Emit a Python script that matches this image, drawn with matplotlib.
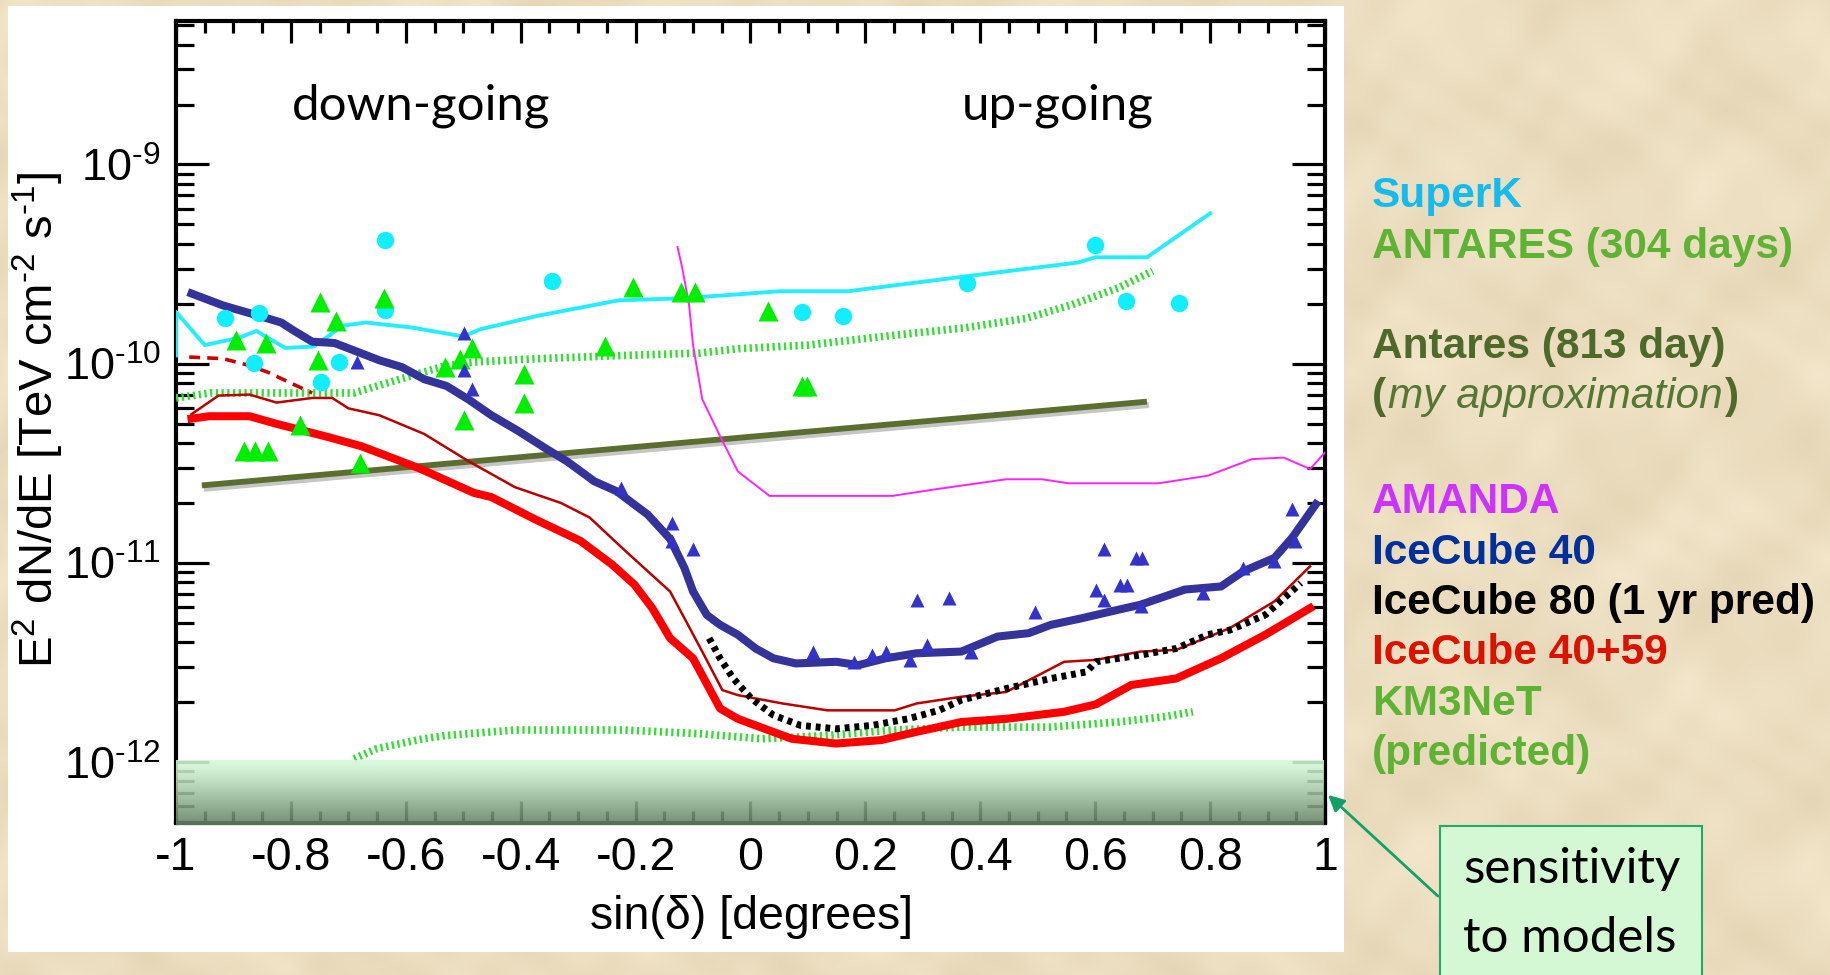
import numpy as np
import matplotlib
matplotlib.use("Agg")
import matplotlib.pyplot as plt
from matplotlib.patches import Rectangle, FancyArrowPatch
from matplotlib.ticker import MultipleLocator, LogLocator, NullFormatter, FixedLocator, FixedFormatter
import matplotlib.patheffects as pe

# ---------------------------------------------------------------- data
superk_x = [-1.0, -1.0, -0.95, -0.89, -0.86, -0.81, -0.76, -0.71, -0.67, -0.59, -0.50, -0.47,
            -0.37, -0.23, -0.12, -0.03, 0.05, 0.17, 0.31, 0.45, 0.57, 0.60, 0.69, 0.80]
superk_y = [1.10e-10, 1.82e-10, 1.24e-10, 1.35e-10, 1.46e-10, 1.20e-10, 1.22e-10, 1.55e-10,
            1.61e-10, 1.52e-10, 1.37e-10, 1.49e-10, 1.74e-10, 2.08e-10, 2.13e-10, 2.22e-10,
            2.31e-10, 2.31e-10, 2.60e-10, 2.92e-10, 3.22e-10, 3.42e-10, 3.42e-10, 5.68e-10]

superk_pts_x = [-0.914, -0.855, -0.864, -0.747, -0.716, -0.637, -0.637, -0.345,
                0.089, 0.161, 0.377, 0.599, 0.654, 0.746]
superk_pts_y = [1.69e-10, 1.79e-10, 1.01e-10, 8.1e-11, 1.02e-10, 4.18e-10, 1.87e-10, 2.59e-10,
                1.82e-10, 1.73e-10, 2.55e-10, 3.96e-10, 2.07e-10, 2.02e-10]

antares_pts_x = [-0.895, -0.844, -0.749, -0.722, -0.753, -0.638, -0.881, -0.862, -0.840,
                 -0.784, -0.679, -0.532, -0.506, -0.484, -0.498, -0.395, -0.395, -0.253,
                 -0.204, -0.121, -0.097, 0.031, 0.089, 0.099]
antares_pts_y = [1.32e-10, 1.27e-10, 2.04e-10, 1.64e-10, 1.04e-10, 2.13e-10, 3.63e-11, 3.63e-11,
                 3.63e-11, 4.90e-11, 3.16e-11, 9.6e-11, 1.06e-10, 1.20e-10, 5.2e-11, 8.87e-11,
                 6.34e-11, 1.22e-10, 2.44e-10, 2.30e-10, 2.30e-10, 1.83e-10, 7.76e-11, 7.76e-11]

antares_x = [-1.0, -0.94, -0.76, -0.69, -0.63, -0.58, -0.53, -0.48, -0.37, -0.22, -0.09,
             -0.02, 0.10, 0.25, 0.37, 0.48, 0.56, 0.64, 0.70]
antares_y = [6.73e-11, 7.13e-11, 7.13e-11, 7.13e-11, 8.04e-11, 8.87e-11, 9.79e-11, 1.02e-10,
             1.06e-10, 1.10e-10, 1.13e-10, 1.19e-10, 1.24e-10, 1.39e-10, 1.51e-10, 1.69e-10,
             1.98e-10, 2.40e-10, 2.92e-10]

km3net_x = [-0.69, -0.65, -0.57, -0.53, -0.41, -0.22, -0.09, 0.02, 0.13, 0.25, 0.37, 0.52,
            0.64, 0.72, 0.77]
km3net_y = [1.04e-12, 1.17e-12, 1.31e-12, 1.36e-12, 1.45e-12, 1.45e-12, 1.39e-12, 1.31e-12,
            1.36e-12, 1.45e-12, 1.50e-12, 1.50e-12, 1.59e-12, 1.69e-12, 1.79e-12]

antares813_x = [-0.955, 0.69]
antares813_y = [2.45e-11, 6.45e-11]

amanda_x = [-0.127, -0.119, -0.107, -0.100, -0.092, -0.084, -0.053, -0.022, 0.033, 0.247,
            0.321, 0.445, 0.507, 0.554, 0.710, 0.796, 0.873, 0.928, 0.974, 1.0]
amanda_y = [3.85e-10, 3.04e-10, 1.98e-10, 1.24e-10, 9.08e-11, 6.64e-11, 4.33e-11, 2.88e-11,
            2.17e-11, 2.17e-11, 2.34e-11, 2.63e-11, 2.63e-11, 2.51e-11, 2.51e-11, 2.74e-11,
            3.32e-11, 3.38e-11, 2.96e-11, 3.59e-11]

ic40_x = [-0.973, -0.918, -0.856, -0.817, -0.794, -0.763, -0.724, -0.685, -0.646, -0.607,
          -0.568, -0.529, -0.490, -0.451, -0.405, -0.358, -0.319, -0.272, -0.233, -0.179,
          -0.140, -0.115, -0.100, -0.076, -0.053, -0.022, 0.009, 0.040, 0.079, 0.149, 0.188,
          0.235, 0.289, 0.367, 0.430, 0.484, 0.523, 0.577, 0.640, 0.679, 0.756, 0.819, 0.858,
          0.912, 0.943, 0.984]
ic40_y = [2.25e-10, 1.96e-10, 1.74e-10, 1.61e-10, 1.46e-10, 1.29e-10, 1.27e-10, 1.15e-10,
          1.04e-10, 9.62e-11, 8.36e-11, 7.73e-11, 6.59e-11, 5.51e-11, 4.61e-11, 3.78e-11,
          3.23e-11, 2.57e-11, 2.29e-11, 1.75e-11, 1.32e-11, 9.44e-12, 7.19e-12, 5.48e-12,
          4.89e-12, 4.36e-12, 3.72e-12, 3.32e-12, 3.13e-12, 3.19e-12, 3.07e-12, 3.32e-12,
          3.52e-12, 3.59e-12, 4.27e-12, 4.44e-12, 4.89e-12, 5.28e-12, 5.82e-12, 6.17e-12,
          7.35e-12, 7.62e-12, 9.08e-12, 1.06e-11, 1.34e-11, 1.97e-11]

ic40_pts_x = [-0.685, -0.498, -0.498, -0.484, -0.226, -0.137, -0.100, -0.136, 0.109, 0.181,
              0.212, 0.235, 0.278, 0.289, 0.308, 0.346, 0.384, 0.496, 0.601, 0.616, 0.616,
              0.643, 0.655, 0.671, 0.682, 0.679, 0.788, 0.858, 0.912, 0.943, 0.947]
ic40_pts_y = [1.02e-10, 1.43e-10, 9.25e-11, 7.43e-11, 2.39e-11, 1.59e-11, 1.17e-11, 1.29e-11,
              3.59e-12, 3.19e-12, 3.45e-12, 3.59e-12, 3.26e-12, 6.53e-12, 3.87e-12, 6.67e-12,
              3.59e-12, 5.70e-12, 7.35e-12, 1.17e-11, 6.53e-12, 7.78e-12, 7.78e-12, 1.06e-11,
              1.06e-11, 6.05e-12, 7.06e-12, 9.44e-12, 1.02e-11, 1.86e-11, 1.29e-11]

ic4059_x = [-0.973, -0.942, -0.872, -0.825, -0.778, -0.732, -0.677, -0.630, -0.576, -0.529,
            -0.482, -0.451, -0.374, -0.296, -0.241, -0.202, -0.171, -0.140, -0.100, -0.053,
            -0.022, 0.025, 0.072, 0.149, 0.227, 0.289, 0.367, 0.445, 0.546, 0.601, 0.663,
            0.741, 0.819, 0.896, 0.974]
ic4059_y = [5.30e-11, 5.45e-11, 5.45e-11, 4.99e-11, 4.61e-11, 4.26e-11, 3.85e-11, 3.42e-11,
            2.98e-11, 2.59e-11, 2.25e-11, 2.14e-11, 1.65e-11, 1.29e-11, 9.82e-12, 7.78e-12,
            5.93e-12, 4.19e-12, 3.32e-12, 1.86e-12, 1.65e-12, 1.47e-12, 1.31e-12, 1.24e-12,
            1.29e-12, 1.42e-12, 1.59e-12, 1.65e-12, 1.79e-12, 1.95e-12, 2.44e-12, 2.63e-12,
            3.32e-12, 4.36e-12, 5.93e-12]

ic4059_sens_x = [-0.973, -0.926, -0.872, -0.825, -0.763, -0.728, -0.700, -0.646, -0.568,
                 -0.490, -0.410, -0.330, -0.280, -0.218, -0.140, -0.115, -0.084, -0.049,
                 -0.022, 0.056, 0.134, 0.251, 0.289, 0.367, 0.445, 0.546, 0.601, 0.679,
                 0.741, 0.834, 0.912, 0.974]
ic4059_sens_y = [5.58e-11, 6.92e-11, 7.00e-11, 6.38e-11, 6.73e-11, 6.73e-11, 5.97e-11, 5.51e-11,
                 4.44e-11, 3.23e-11, 2.40e-11, 2.00e-11, 1.69e-11, 1.15e-11, 7.19e-12, 5.28e-12,
                 3.59e-12, 2.30e-12, 2.17e-12, 1.97e-12, 1.82e-12, 1.82e-12, 1.97e-12, 2.13e-12,
                 2.25e-12, 3.19e-12, 3.26e-12, 3.59e-12, 3.66e-12, 4.70e-12, 6.41e-12, 9.62e-12]

ic4059_south_x = [-0.977, -0.918, -0.872, -0.840, -0.802, -0.763]
ic4059_south_y = [1.08e-10, 1.06e-10, 9.79e-11, 9.06e-11, 8.04e-11, 7.13e-11]

ic80_x = [-0.072, -0.053, -0.030, 0.002, 0.040, 0.087, 0.149, 0.212, 0.274, 0.328, 0.367,
          0.445, 0.523, 0.585, 0.601, 0.679, 0.741, 0.796, 0.835, 0.896, 0.958]
ic80_y = [4.19e-12, 3.32e-12, 2.63e-12, 2.08e-12, 1.72e-12, 1.53e-12, 1.47e-12, 1.53e-12,
          1.65e-12, 1.82e-12, 2.05e-12, 2.34e-12, 2.63e-12, 2.84e-12, 3.19e-12, 3.45e-12,
          3.72e-12, 4.36e-12, 4.61e-12, 5.48e-12, 7.93e-12]

model_band = [4.85e-13, 1.035e-12]

xtick_values = [-1, -0.8, -0.6, -0.4, -0.2, 0, 0.2, 0.4, 0.6, 0.8, 1]
xtick_labels = ["-1", "-0.8", "-0.6", "-0.4", "-0.2", "0", "0.2", "0.4", "0.6", "0.8", "1"]
ytick_values = [1e-12, 1e-11, 1e-10, 1e-9]
ytick_labels = [r"10$^{\text{-12}}$", r"10$^{\text{-11}}$", r"10$^{\text{-10}}$", r"10$^{\text{-9}}$"]

legend_entries = [
    ("SuperK", "#14BBEE"),
    ("ANTARES (304 days)", "#5EB335"),
    ("Antares (813 day)", "#4E6A2A"),
    ("AMANDA", "#CC33FF"),
    ("IceCube 40", "#00309E"),
    ("IceCube 80 (1 yr pred)", "#000000"),
    ("IceCube 40+59", "#DD1100"),
    ("KM3NeT", "#5EB335"),
    ("(predicted)", "#5EB335"),
]

# ---------------------------------------------------------------- style
plt.rcParams['font.family'] = ['Liberation Sans', 'DejaVu Sans']
plt.rcParams['mathtext.fontset'] = 'custom'
plt.rcParams['mathtext.rm'] = 'Liberation Sans'
plt.rcParams['mathtext.it'] = 'Liberation Sans:italic'
plt.rcParams['mathtext.bf'] = 'Liberation Sans:bold'
plt.rcParams['axes.unicode_minus'] = False

W, H, DPI = 1831, 975, 100


def fx(px):
    return px / W


def fy(py):
    return 1 - py / H


fig = plt.figure(figsize=(W / DPI, H / DPI), dpi=DPI, facecolor="#ECDDBD")

# parchment background
yy, xx = np.mgrid[0:H, 0:W].astype(float)
n = (np.sin(xx * 0.031 + 1.7 * np.sin(yy * 0.023))
     + np.sin(yy * 0.037 + 1.3 * np.sin(xx * 0.019))
     + 0.6 * np.sin((xx + yy) * 0.067 + np.sin(xx * 0.041))
     + 0.5 * np.sin((xx - yy) * 0.081 + 2 * np.sin(yy * 0.029)))
n = n / np.abs(n).max()
base = np.array([236, 222, 192]) / 255.0
tex = np.clip(base + n[..., None] * np.array([7, 8, 10]) / 255.0, 0, 1)
fig.figimage(tex, xo=0, yo=0, origin="upper", zorder=-3)

# white plot panel
fig.add_artist(Rectangle((fx(8), fy(952)), (1344 - 8) / W, (952 - 6) / H,
                         transform=fig.transFigure, facecolor="white",
                         edgecolor="none", zorder=-1))

ax = fig.add_axes([fx(176), fy(823), (1325 - 176) / W, (823 - 21) / H])
ax.set_facecolor("white")
ax.set_yscale("log")

# ---------------------------------------------------------------- curves
ax.plot(antares813_x, antares813_y, color="#5B6E30", lw=4.2, solid_capstyle="butt", zorder=3,
        path_effects=[pe.SimpleLineShadow(offset=(1.5, -2.5), shadow_color="0.35", alpha=0.35),
                      pe.Normal()])
ax.plot(antares_x, antares_y, color="#33DD33", lw=5.5, ls=(0, (0.3, 0.45)), zorder=3)
ax.plot(km3net_x, km3net_y, color="#33DD33", lw=5.5, ls=(0, (0.3, 0.45)), zorder=3)
ax.plot(superk_x, superk_y, color="#22EEFF", lw=2.8, zorder=4)
ax.plot(amanda_x, amanda_y, color="#FF22FF", lw=1.4, zorder=4)
ax.plot(ic4059_south_x, ic4059_south_y, color="#CC0000", lw=2.6, ls=(0, (3, 2)), zorder=4)
ax.plot(ic4059_sens_x, ic4059_sens_y, color="#BB0000", lw=1.8, zorder=4)
ax.plot(ic4059_x, ic4059_y, color="#FF0000", lw=5.8, zorder=4)
ax.plot(ic40_x, ic40_y, color="#333399", lw=5.8, zorder=5)
ax.plot(ic80_x, ic80_y, color="black", lw=5, ls=(0, (0.7, 0.7)), zorder=5)

ax.plot(superk_pts_x, superk_pts_y, ls="none", marker="o", ms=12.5, color="#11EEFF",
        mec="none", zorder=6)
ax.plot(antares_pts_x, antares_pts_y, ls="none", marker="^", ms=15, color="#00EE00",
        mec="none", zorder=6)
ax.plot(ic40_pts_x, ic40_pts_y, ls="none", marker="^", ms=10.5, color="#3333CC",
        mec="none", zorder=6)

# shaded band of model predictions
grad_top = np.array([0.84, 0.98, 0.85])
grad_bot = np.array([0.38, 0.50, 0.38])
t = (np.linspace(0, 1, 200) ** 1.6)[:, None]
grad = (grad_top * (1 - t) + grad_bot * t)[:, None, :]
ax.imshow(grad, extent=[-1.0, 1.0, model_band[0], model_band[1]], origin="upper",
          aspect="auto", zorder=10, alpha=0.88, clip_on=False, interpolation="bilinear")

# ---------------------------------------------------------------- axes
ax.set_xlim(-1, 1)
ax.set_ylim(4.95e-13, 5.25e-9)
ax.xaxis.set_major_locator(FixedLocator(xtick_values))
ax.xaxis.set_major_formatter(FixedFormatter(xtick_labels))
ax.xaxis.set_minor_locator(MultipleLocator(0.05))
ax.yaxis.set_major_locator(FixedLocator(ytick_values))
ax.yaxis.set_major_formatter(FixedFormatter(ytick_labels))
ax.yaxis.set_minor_locator(LogLocator(base=10, subs=np.arange(2, 10)))
ax.yaxis.set_minor_formatter(NullFormatter())

for s in ax.spines.values():
    s.set_linewidth(3)
ax.tick_params(which="both", direction="in", top=True, right=True, width=2.3, color="black")
ax.tick_params(axis="x", which="major", length=16, labelsize=33.5, pad=9)
ax.tick_params(axis="x", which="minor", length=8.5)
ax.tick_params(axis="y", which="major", length=24, labelsize=32.5, pad=11)
ax.tick_params(axis="y", which="minor", length=13)

fig.text(fx(752), fy(917), "sin(δ) [degrees]", fontsize=33.5, ha="center", va="center")
fig.text(fx(53), fy(420), r"E$^2$ dN/dE [TeV cm$^{\text{-2}}$ s$^{\text{-1}}$]", fontsize=34,
         rotation=90, rotation_mode="anchor", ha="center", va="baseline")

fig.text(fx(292), fy(119), "down-going", fontsize=35.5, family="Lato", va="baseline")
fig.text(fx(962), fy(119), "up-going", fontsize=35.5, family="Lato", va="baseline")

# ---------------------------------------------------------------- side legend
baselines = [207, 258, 358, 513, 564, 614, 664, 715, 765]
for (label, col), yb in zip(legend_entries, baselines):
    fig.text(fx(1372), fy(yb), label, fontsize=30.5, weight="bold", color=col, va="baseline")

renderer = fig.canvas.get_renderer()
olive = "#4E6A2A"
p1 = fig.text(fx(1372), fy(408), "(", fontsize=30.5, weight="bold", color=olive, va="baseline")
x1 = p1.get_window_extent(renderer).x1
p2 = fig.text((x1 + 2) / W, fy(408), "my approximation", fontsize=30.5, style="italic",
              color="#557733", va="baseline")
x2 = p2.get_window_extent(renderer).x1
fig.text((x2 + 2) / W, fy(408), ")", fontsize=30.5, weight="bold", color=olive, va="baseline")

# ---------------------------------------------------------------- callout
fig.add_artist(Rectangle((fx(1440), fy(1000)), (1702 - 1440) / W, (1000 - 826) / H,
                         transform=fig.transFigure, facecolor="#D4F8D4",
                         edgecolor="#22AA66", lw=1.5, zorder=5))
fig.text(fx(1463), fy(883), "sensitivity", fontsize=35.5, family="Lato", va="baseline", zorder=6)
fig.text(fx(1463), fy(952), "to models", fontsize=35.5, family="Lato", va="baseline", zorder=6)
fig.add_artist(FancyArrowPatch((fx(1440), fy(898)), (fx(1326), fy(793)),
                               transform=fig.transFigure, arrowstyle="-|>",
                               mutation_scale=24, color="#11A066", lw=2, zorder=12))

fig.savefig("out.png", dpi=DPI, facecolor=fig.get_facecolor())
